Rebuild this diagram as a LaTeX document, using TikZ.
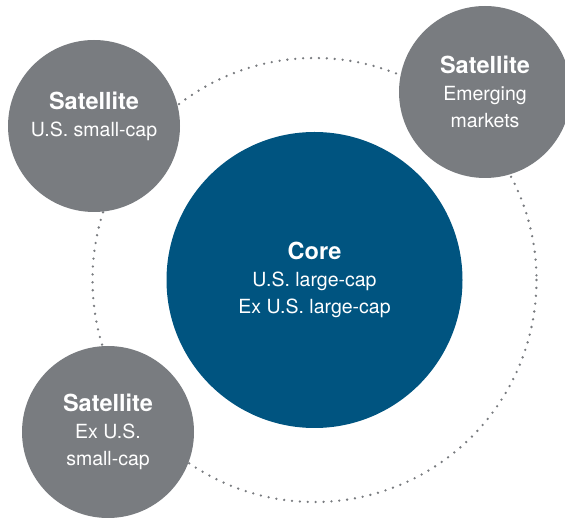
\documentclass[tikz,border=0pt]{standalone}
\usepackage{fontspec}
\setmainfont{TeX Gyre Heros}
\usetikzlibrary{positioning}
\definecolor{coreblue}{RGB}{0,84,128}
\definecolor{satgray}{RGB}{121,124,128}
\definecolor{dotgray}{RGB}{120,123,127}

\begin{document}
\begin{tikzpicture}[x=1pt, y=-1pt,
    core/.style={circle, fill=coreblue, minimum size=296pt, inner sep=0pt},
    sat/.style={circle, fill=satgray, minimum size=172pt, inner sep=0pt},
    txt/.style={text=white, align=center, inner sep=0pt, font=\fontsize{19.5}{27}\selectfont},
    orbit/.style={dotgray, line width=2.6pt, line cap=round, dash pattern=on 0pt off 7.9pt}]
  \useasboundingbox (0,0) rectangle (565,518);
  \newcommand{\hd}[1]{{\fontsize{23.5}{27}\selectfont\bfseries #1}}

  % the ring the satellites sit on
  \coordinate (mid) at (314.5,280);
  \draw[orbit] (mid) circle (222);

  \node[core] (core) at (mid) {};
  \node[sat] (usSmall) at (94,126) {};
  \node[sat] (emerging) at (485,92) {};
  \node[sat] (exSmall) at (108,432) {};

  \node[txt] (coreTxt) at (core.center) {\hd{Core}\\U.S. large-cap\\Ex U.S. large-cap};
  \node[txt] (usSmallTxt) at ([yshift=10pt]usSmall.center) {\hd{Satellite}\\U.S. small-cap};
  \node[txt] (emergingTxt) at (emerging.center) {\hd{Satellite}\\Emerging\\markets};
  \node[txt] (exSmallTxt) at (exSmall.center) {\hd{Satellite}\\Ex U.S.\\small-cap};
\end{tikzpicture}
\end{document}
